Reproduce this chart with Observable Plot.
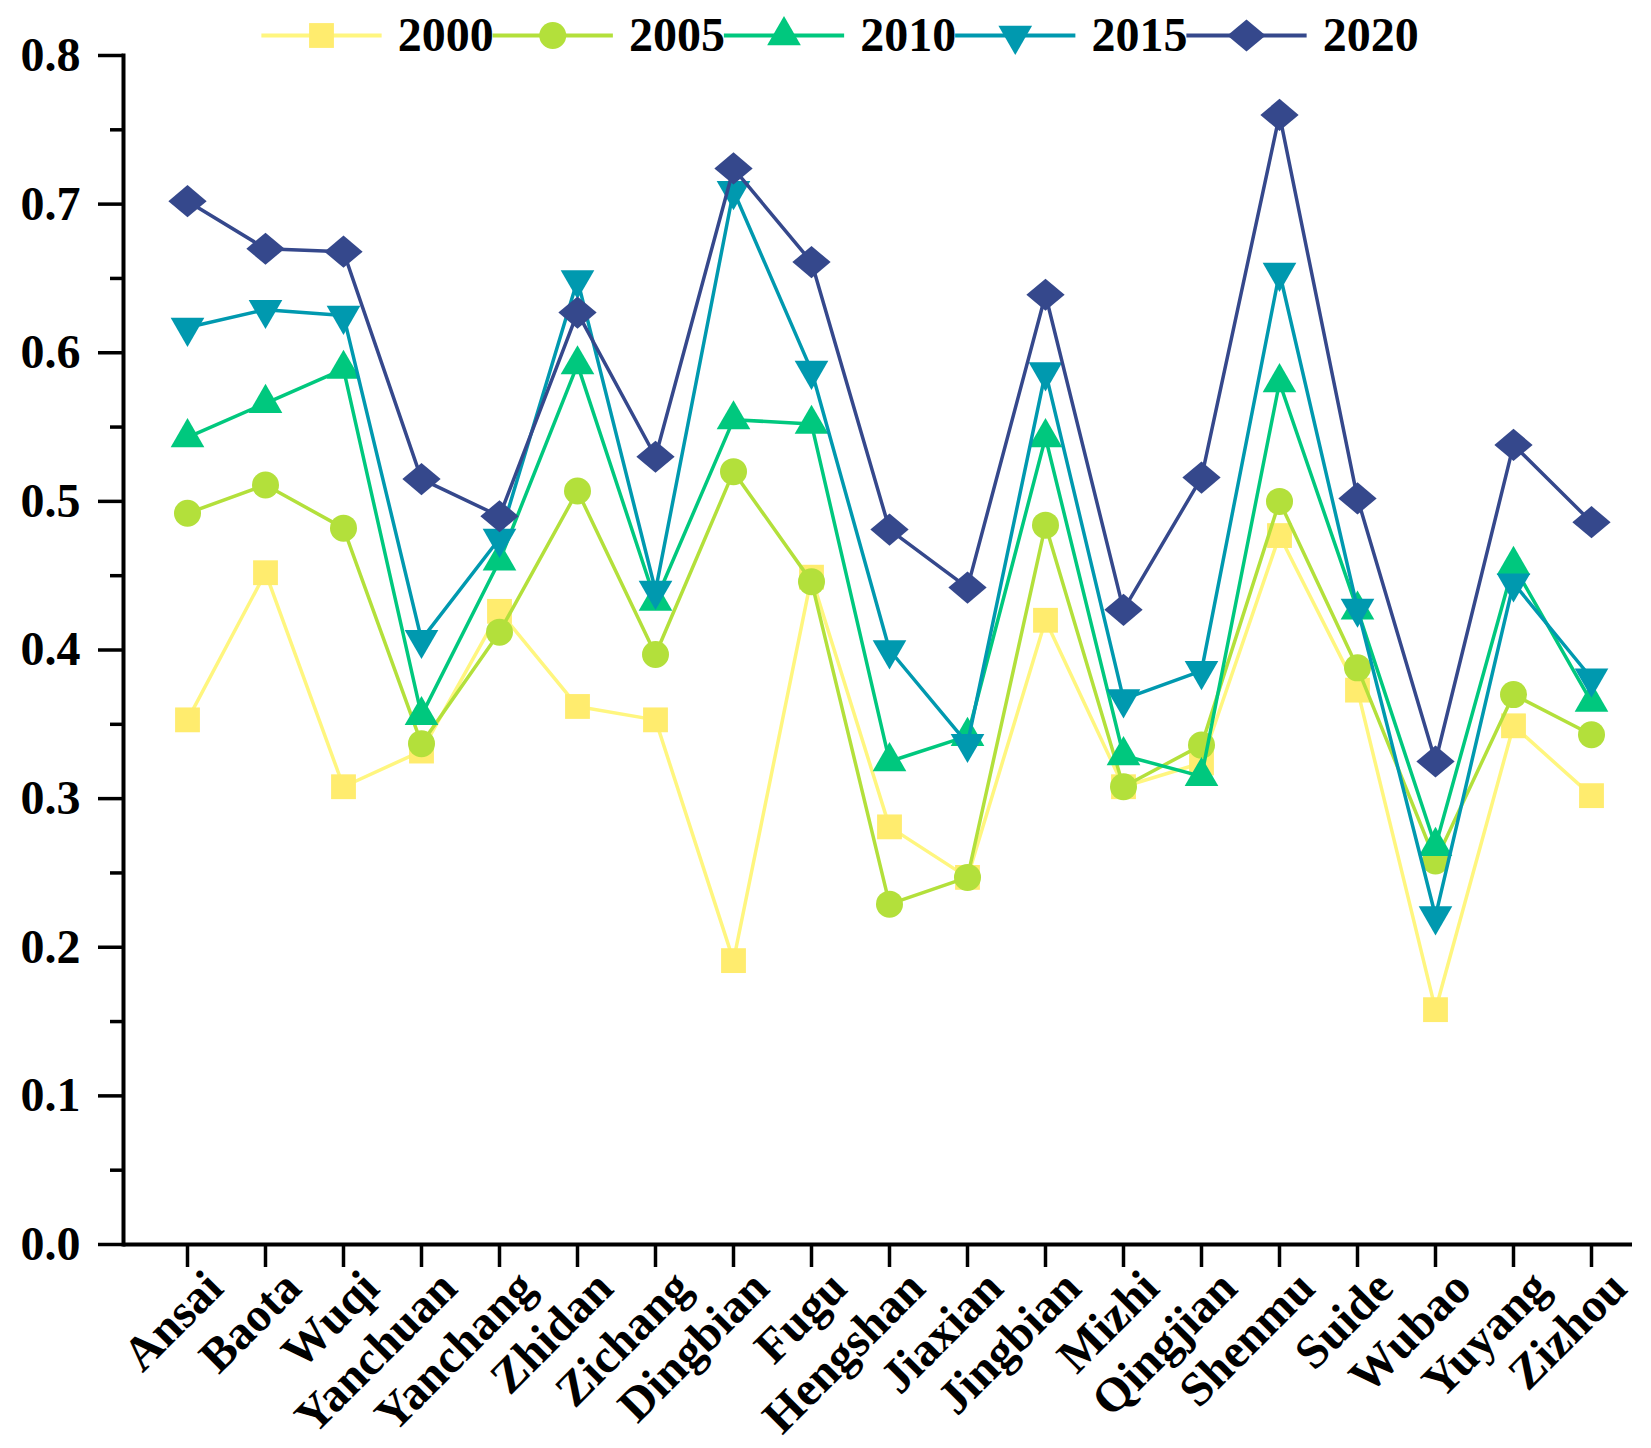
<!DOCTYPE html>
<html><head><meta charset="utf-8">
<script src="https://cdn.jsdelivr.net/npm/d3@7"></script>
<script src="https://cdn.jsdelivr.net/npm/@observablehq/plot@0.6"></script>
<style>
body{margin:0;background:#fff;}
#wrap{position:relative;width:1651px;height:1448px;}
#legend{position:absolute;left:0;top:0;}
svg text{font-family:"Liberation Serif","Times New Roman",serif;font-weight:bold;fill:#000;}
</style></head><body><div id="wrap"><div id="chart"></div><div id="legend"></div></div>
<script>
const counties = ["Ansai","Baota","Wuqi","Yanchuan","Yanchang","Zhidan","Zichang","Dingbian","Fugu","Hengshan","Jiaxian","Jingbian","Mizhi","Qingjian","Shenmu","Suide","Wubao","Yuyang","Zizhou"];
const years = ["2000","2005","2010","2015","2020"];
const v2000 = [0.353,0.452,0.308,0.332,0.426,0.362,0.353,0.191,0.449,0.281,0.247,0.420,0.308,0.324,0.477,0.373,0.158,0.349,0.302];
const v2005 = [0.492,0.511,0.482,0.337,0.412,0.507,0.397,0.520,0.446,0.229,0.247,0.484,0.308,0.336,0.500,0.388,0.258,0.370,0.343];
const v2010 = [0.543,0.566,0.589,0.356,0.460,0.592,0.433,0.555,0.552,0.325,0.342,0.543,0.329,0.315,0.580,0.427,0.268,0.457,0.365];
const v2015 = [0.617,0.629,0.625,0.407,0.475,0.649,0.440,0.709,0.588,0.400,0.337,0.587,0.367,0.386,0.654,0.428,0.221,0.445,0.381];
const v2020 = [0.702,0.670,0.668,0.515,0.490,0.627,0.530,0.724,0.661,0.481,0.442,0.639,0.427,0.516,0.760,0.502,0.325,0.538,0.486];
const yMajor = [0,0.1,0.2,0.3,0.4,0.5,0.6,0.7,0.8];
const yMinor = [0.05,0.15,0.25,0.35,0.45,0.55,0.65,0.75];

const series = [v2000,v2005,v2010,v2015,v2020];
const lineColors = ["#FFF67F","#B3E03B","#00C87E","#0099AF","#35488C"];
const markerColors = ["#FFEC6E","#B3E03B","#00C87E","#0099AF","#35488C"];
const wideDiamond = {draw(ctx, size){const hw=Math.sqrt(size/1.68), hh=0.84*hw; ctx.moveTo(0,-hh); ctx.lineTo(hw,0); ctx.lineTo(0,hh); ctx.lineTo(-hw,0); ctx.closePath();}};
const symbols = ["square","circle","triangle","triangle",wideDiamond];
const rotations = [0,0,0,180,0];
const radii = [14,13.5,12.5,12.5,14];

const FONT = '"Liberation Serif","Times New Roman",serif';
const marks = [];
years.forEach((yr,k)=>{
  const rows = counties.map((c,i)=>({county:c, value:series[k][i]}));
  marks.push(Plot.line(rows,{x:"county",y:"value",stroke:lineColors[k],strokeWidth:3.5}));
  marks.push(Plot.dot(rows,{x:"county",y:"value",symbol:symbols[k],fill:markerColors[k],r:radii[k],rotate:rotations[k]}));
});

const chart = Plot.plot({
  width:1651, height:1448,
  marginLeft:123, marginRight:19, marginTop:55, marginBottom:204,
  style:{fontFamily:FONT, fontWeight:"bold", background:"#fff"},
  x:{type:"point", domain:counties, insetLeft:63, insetRight:41, padding:0, label:null},
  y:{domain:[0,0.8], label:null},
  marks:[
    Plot.axisY(yMinor,{tickSize:13, strokeWidth:3.5, tickFormat:()=>"", label:null}),
    Plot.axisY(yMajor,{tickSize:25, strokeWidth:3.5, tickPadding:18, tickFormat:d3.format(".1f"), fontSize:48, fontWeight:"bold", label:null}),
    Plot.axisX({tickSize:23, strokeWidth:3.5, tickFormat:()=>"", label:null}),
    Plot.text(counties,{x:d=>d, frameAnchor:"bottom", rotate:-45, textAnchor:"end", lineAnchor:"bottom", dx:38, dy:46, fontSize:48, fontWeight:"bold"}),
    Plot.frame({anchor:"left", strokeWidth:4}),
    Plot.ruleY([0],{strokeWidth:4}),
    ...marks
  ]
});
document.getElementById("chart").appendChild(chart);

const legendRows = years.map((yr,k)=>({i:k, year:yr}));
const legend = Plot.plot({
  width:1651, height:70, marginLeft:321, marginRight:405, marginTop:0, marginBottom:0,
  style:{fontFamily:FONT, fontWeight:"bold", background:"transparent"},
  x:{domain:[0,4], axis:null},
  y:{domain:[-1,1], axis:null},
  marks:[
    Plot.link(legendRows,{x1:d=>d.i-0.26, x2:d=>d.i+0.26, y1:()=>0, y2:()=>0, stroke:d=>lineColors[d.i], strokeWidth:4}),
    ...legendRows.map(d=>Plot.dot([d],{x:"i", y:()=>0, symbol:symbols[d.i], fill:markerColors[d.i], r:radii[d.i], rotate:rotations[d.i]})),
    Plot.text(legendRows,{x:d=>d.i+0.33, y:()=>0, text:"year", textAnchor:"start", fontSize:48, fontWeight:"bold"})
  ]
});
document.getElementById("legend").appendChild(legend);
</script></body></html>
